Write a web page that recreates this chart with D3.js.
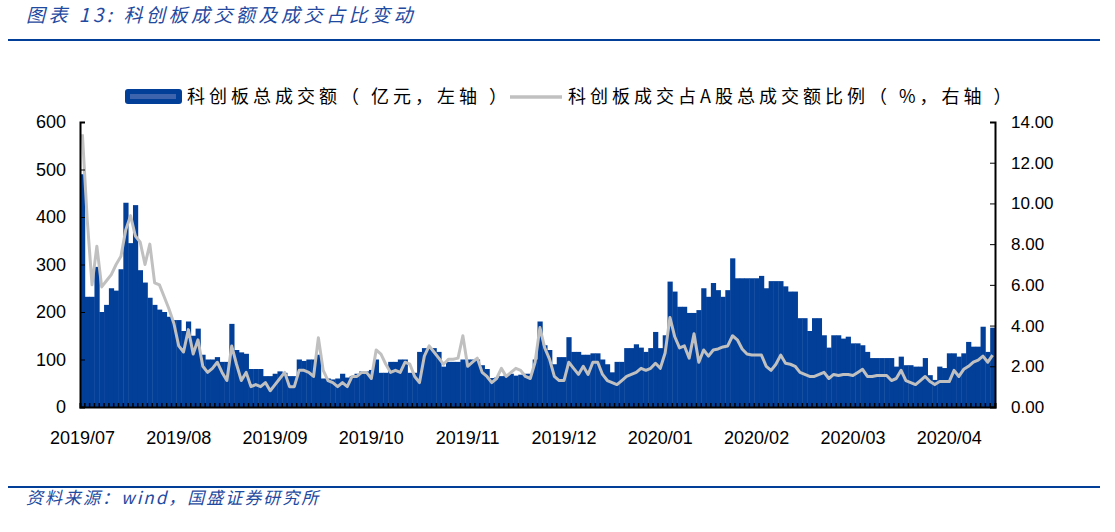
<!DOCTYPE html>
<html>
<head>
<meta charset="utf-8">
<script src="https://cdn.jsdelivr.net/npm/d3@7"></script>
<style>
  body { margin: 0; background: #fff; }
  text { font-family: "Liberation Sans", Arial, sans-serif; }
  .cjk { font-family: "Noto Sans CJK SC", sans-serif; }
</style>
</head>
<body>
<svg id="chart" width="1115" height="532"></svg>
<script>
// 科创板成交额（亿元） daily, 2019/07/22 onwards
const turnover = [
  490,232,232,295,200,215,250,245,290,430,
  345,425,288,262,230,215,205,200,190,183,
  183,160,180,150,165,110,100,100,105,95,
  95,175,120,115,112,80,80,80,65,65,
  70,75,72,65,65,100,97,100,100,110,
  60,60,58,60,70,62,65,70,75,75,
  78,100,
  72,72,95,95,100,100,72,72,116,124,
  124,124,116,85,95,95,95,100,100,100,
  100,88,80,61,62,65,68,70,66,68,
  70,70,100,180,130,120,90,105,105,147,
  116,116,110,110,113,113,100,90,73,95,
  95,124,124,132,125,116,
  124,158,124,151,264,243,
  211,211,198,198,204,250,232,261,246,232,
  246,313,271,271,271,271,271,276,250,265,
  265,265,254,243,243,
  187,187,160,187,187,151,125,151,151,144,
  148,134,134,130,116,103,103,103,103,103,
  85,106,88,88,85,85,103,67,57,85,
  82,113,113,106,113,137,127,127,169,116,167
];
// 科创板成交占A股总成交额比例（%）
const ratio = [
  13.4,9.2,6.0,7.9,5.9,6.2,6.5,7.0,7.4,8.7,
  9.4,8.4,8.1,7.0,8.0,6.1,6.0,5.4,4.8,4.1,
  3.0,2.7,3.8,2.6,3.3,2.0,1.7,1.9,2.2,1.7,
  1.3,3.0,2.1,1.3,1.7,1.0,1.1,1.0,1.2,0.8,
  1.1,1.4,1.7,1.0,1.0,1.8,1.8,1.7,1.5,3.4,
  1.8,1.3,1.2,1.0,1.2,1.0,1.5,1.5,1.7,1.7,
  1.4,2.8,
  2.6,2.1,1.7,1.8,1.7,2.2,2.1,1.5,1.2,2.5,
  3.0,2.7,2.4,2.1,2.35,2.35,2.4,3.5,2.0,2.2,
  2.4,1.7,1.5,1.2,1.4,1.9,1.5,1.7,1.9,1.8,
  1.5,1.4,2.2,3.9,2.9,2.35,1.5,1.3,1.3,2.2,
  1.9,1.6,2.0,1.6,2.2,2.2,1.6,1.3,1.2,1.1,
  1.3,1.5,1.6,1.7,1.9,1.8,
  1.9,2.15,1.9,2.65,4.4,3.45,2.9,3.0,2.4,3.6,
  2.2,2.8,2.5,2.8,2.85,2.95,3.0,3.5,3.3,2.85,
  2.6,2.55,2.55,2.55,2.0,1.8,2.1,2.55,2.15,2.1,
  2.0,1.7,1.6,1.5,1.5,1.6,1.7,1.4,1.6,1.55,
  1.6,1.6,1.55,1.7,1.85,1.5,1.5,1.55,1.55,1.55,
  1.3,1.4,1.8,1.3,1.2,1.1,1.3,1.5,1.25,1.1,
  1.25,1.25,1.25,1.8,1.5,1.85,2.0,2.2,2.3,2.5,2.2,2.55
];
const monthLabels = ['2019/07','2019/08','2019/09','2019/10','2019/11','2019/12','2020/01','2020/02','2020/03','2020/04'];
const leftTicks = [0,100,200,300,400,500,600];
const rightTicks = [0,2,4,6,8,10,12,14];

const blue = '#023f98', grey = '#c0c0c0', titleBlue = '#1f4aa0';
const margin = { top: 122, left: 80, right: 120, bottom: 125 };
const W = 1115, H = 532;
const width = W - margin.left - margin.right;
const height = H - margin.top - margin.bottom;

const svg = d3.select('#chart');
const n = Math.min(turnover.length, ratio.length);
const idx = d3.range(n);

const x = d3.scaleBand().domain(idx).range([0, width]).padding(0);
const yL = d3.scaleLinear().domain([0, 600]).range([height, 0]);
const yR = d3.scaleLinear().domain([0, 14]).range([height, 0]);

// ── Title & source ──
svg.append('text').attr('class', 'cjk').attr('x', 26).attr('y', 22)
  .attr('fill', titleBlue).style('font-size', '19px').style('font-style', 'italic')
  .style('letter-spacing', '3.5px')
  .text('图表 13:  科创板成交额及成交占比变动');
svg.append('line').attr('x1', 8).attr('x2', 1100).attr('y1', 40).attr('y2', 40)
  .attr('stroke', blue).attr('stroke-width', 2);
svg.append('line').attr('x1', 8).attr('x2', 1100).attr('y1', 487).attr('y2', 487)
  .attr('stroke', blue).attr('stroke-width', 2);
svg.append('text').attr('class', 'cjk').attr('x', 26).attr('y', 504)
  .attr('fill', titleBlue).style('font-size', '17px').style('font-style', 'italic')
  .style('letter-spacing', '2px')
  .text('资料来源：wind，国盛证券研究所');

const g = svg.append('g').attr('transform', `translate(${margin.left},${margin.top})`);

// Bars
g.selectAll('rect.bar').data(idx).enter().append('rect')
  .attr('class', 'bar')
  .attr('x', d => x(d))
  .attr('y', d => yL(turnover[d]))
  .attr('width', x.bandwidth() + 0.4)
  .attr('height', d => height - yL(turnover[d]))
  .attr('fill', blue);

// Line
g.append('path').datum(idx)
  .attr('fill', 'none').attr('stroke', grey).attr('stroke-width', 3)
  .attr('stroke-linejoin', 'round')
  .attr('d', d3.line().x(d => x(d) + x.bandwidth() / 2).y(d => yR(ratio[d])));

// Bottom axis with small inward ticks per bar
const bottom = g.append('g').attr('transform', `translate(0,${height})`)
  .call(d3.axisBottom(x).tickValues(idx).tickSize(-4).tickFormat(''));
bottom.selectAll('.tick line').attr('transform', `translate(${x.bandwidth() / 2},0)`)
  .attr('stroke', '#000').attr('stroke-width', 1.5);
bottom.select('.domain').attr('stroke', '#000').attr('stroke-width', 2);

// month labels every 20 bars
g.selectAll('text.month').data(monthLabels).enter().append('text')
  .attr('class', 'month')
  .attr('x', (d, i) => x(i * 20) + x.bandwidth() / 2)
  .attr('y', height + 37)
  .attr('text-anchor', 'middle')
  .style('font-size', '18px').attr('fill', '#000')
  .text(d => d);

// Left axis
const left = g.append('g')
  .call(d3.axisLeft(yL).tickValues(leftTicks).tickSize(-5).tickPadding(14));
left.selectAll('text').style('font-size', '18px').attr('fill', '#000');
left.select('.domain').attr('stroke', '#000').attr('stroke-width', 2);

// Right axis
const right = g.append('g').attr('transform', `translate(${width},0)`)
  .call(d3.axisRight(yR).tickValues(rightTicks).tickSize(-5).tickPadding(16)
    .tickFormat(d3.format('.2f')));
right.selectAll('text').style('font-size', '17px').attr('fill', '#000');
right.select('.domain').attr('stroke', '#000').attr('stroke-width', 2);

// Legend
const lg = svg.append('g');
lg.append('rect').attr('x', 125).attr('y', 89).attr('width', 57).attr('height', 15)
  .attr('rx', 3).attr('fill', blue);
lg.append('rect').attr('x', 130).attr('y', 94).attr('width', 46).attr('height', 5)
  .attr('fill', '#3e64ad');
lg.append('text').attr('class', 'cjk').attr('x', 187).attr('y', 103)
  .style('font-size', '18px').attr('fill', '#000').style('letter-spacing', '4px')
  .text('科创板总成交额（ 亿元，左轴 ）');
lg.append('line').attr('x1', 510).attr('x2', 562).attr('y1', 97).attr('y2', 97)
  .attr('stroke', grey).attr('stroke-width', 3.5);
lg.append('text').attr('class', 'cjk').attr('x', 568).attr('y', 103)
  .style('font-size', '18px').attr('fill', '#000').style('letter-spacing', '4px')
  .text('科创板成交占A股总成交额比例（ %，右轴 ）');
</script>
</body>
</html>
